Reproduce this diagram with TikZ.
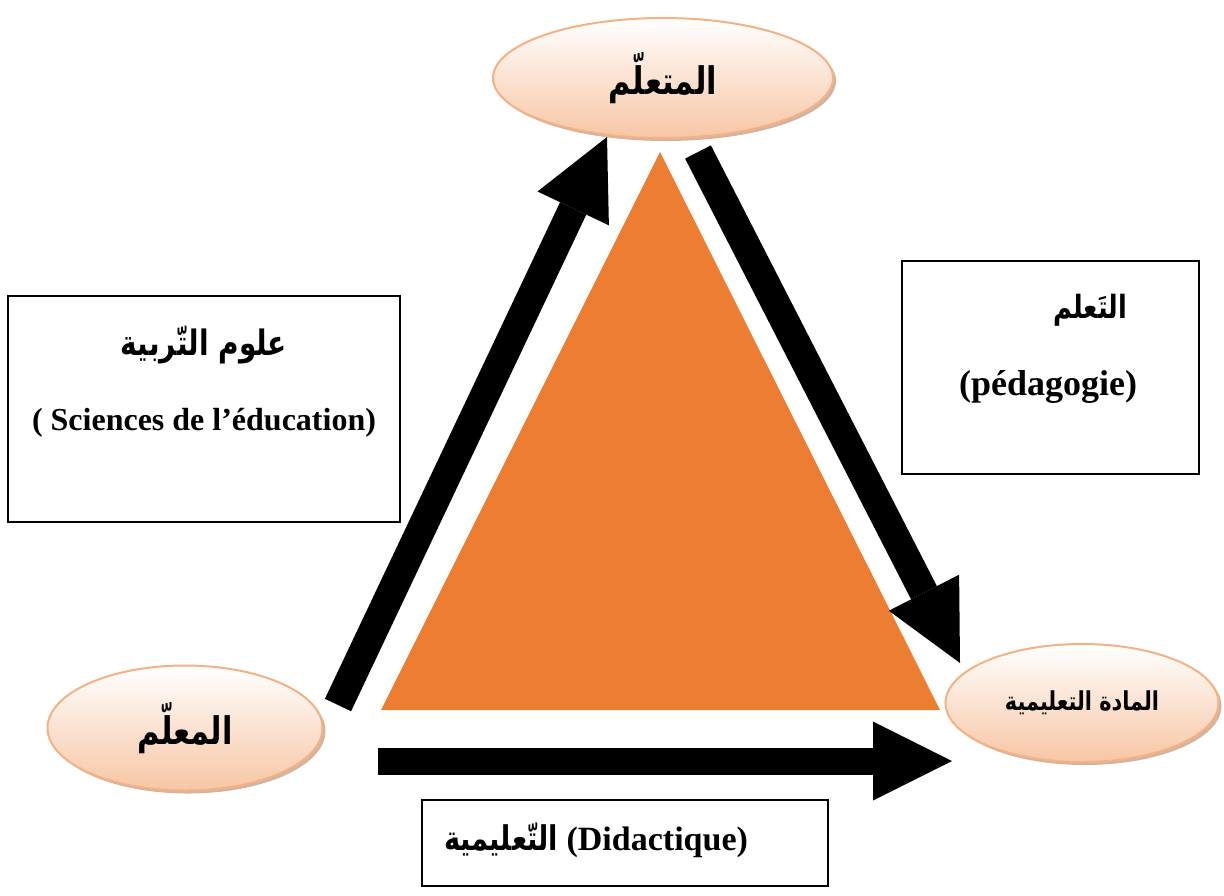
\documentclass[tikz,border=0pt]{standalone}
\usepackage{fontspec}
\setmainfont{Liberation Serif}
\newfontfamily\arabicfont[Script=Arabic, FakeStretch=0.8]{DejaVu Sans}
\TeXXeTstate=1
\usetikzlibrary{arrows.meta, shapes.geometric, shadows}
\definecolor{triorange}{HTML}{ED7D31}
\definecolor{ellline}{HTML}{F4B183}
\definecolor{ellfill}{HTML}{F7C6A4}
\definecolor{ellshadow}{HTML}{C7A189}

\begin{document}
\begin{tikzpicture}[
    x=0.5pt, y=-0.5pt,
    oval/.style={ellipse, draw=ellline, line width=1pt, inner sep=0pt,
                 top color=white, bottom color=ellfill,
                 drop shadow={shadow xshift=1.5pt, shadow yshift=-1.5pt,
                              fill=ellshadow, opacity=.8}},
    frame/.style={rectangle, draw=black, line width=1pt, inner sep=0pt},
    artext/.style={font=\arabicfont\bfseries\fontsize{17.5}{22}\selectfont},
    lattext/.style={font=\bfseries\fontsize{17}{20}\selectfont},
    bigarrow/.style={line width=14.5pt,
                     -{Triangle[width=39.5pt, length=39.5pt, line width=0pt]}},
]
\useasboundingbox (0,0) rectangle (1224,895);

% Triangle
\fill[triorange] (660,152) -- (381,710) -- (940,710) -- cycle;

% Poles
\node[oval, minimum width=170pt, minimum height=60pt] (learner) at (663,78)
     {\arabicfont\bfseries\fontsize{19}{24}\selectfont\beginR المتعلّم\endR};
\node[oval, minimum width=137.5pt, minimum height=62.5pt] (teacher) at (185,728)
     {\arabicfont\bfseries\fontsize{19}{24}\selectfont\beginR المعلّم\endR};
\node[oval, minimum width=136.5pt, minimum height=59pt] (subject) at (1082,703)
     {\arabicfont\bfseries\fontsize{13}{16}\selectfont\beginR المادة التعليمية\endR};

% Arrows
\coordinate (upstart) at (338,705);
\coordinate (uptip) at (607,137);
\coordinate (downstart) at (698,152);
\coordinate (downtip) at (960,663);
\coordinate (flatstart) at (378,761);
\coordinate (flattip) at (952,761);
\draw[bigarrow] (upstart) -- (uptip);
\draw[bigarrow] (downstart) -- (downtip);
\draw[bigarrow, line width=13.5pt] (flatstart) -- (flattip);

% Boxes
\node[frame, minimum width=196pt, minimum height=113pt] (sciedu) at (204,409) {};
\node[artext] (sciedu-ar) at (204,345) {\beginR علوم التّربية\endR};
\node[lattext, font=\bfseries\fontsize{16}{20}\selectfont] (sciedu-fr) at (204,423)
     {( Sciences de l’éducation)};

\node[frame, minimum width=148.5pt, minimum height=106.5pt] (pedago) at (1050.5,367.5) {};
\node[artext, font=\arabicfont\bfseries\fontsize{16}{20}\selectfont] (pedago-ar) at (1090,310)
     {\beginR التَعلم\endR};
\node[lattext, font=\bfseries\fontsize{18}{22}\selectfont] (pedago-fr) at (1048,387)
     {(pédagogie)};

\node[frame, minimum width=203pt, minimum height=43pt] (didact) at (625,843) {};
\node[lattext] (didact-txt) at (596,840)
     {{\arabicfont\beginR التّعليمية\endR} (Didactique)};

\end{tikzpicture}
\end{document}
